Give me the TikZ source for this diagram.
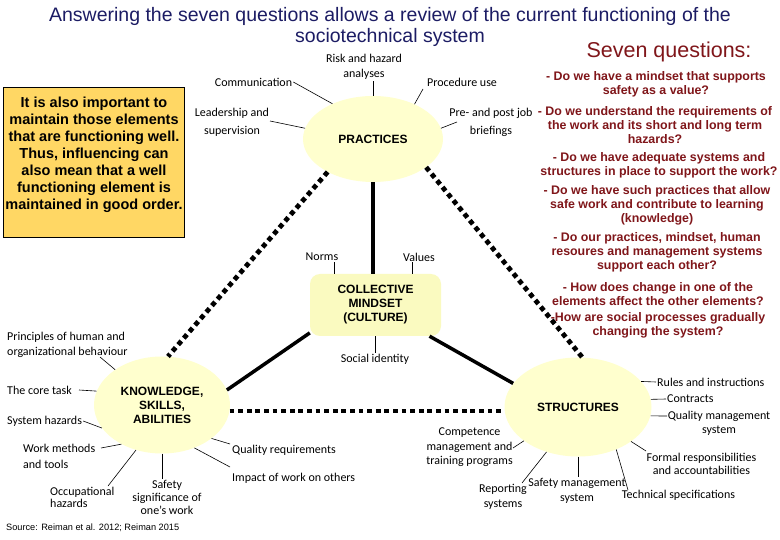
\documentclass[tikz,border=0pt]{standalone}
\usepackage{fontspec}
\usetikzlibrary{shapes.geometric}
\newfontfamily\labfont{Carlito}
\newfontfamily\arfont{Liberation Sans}
\definecolor{titleblue}{RGB}{28,28,100}
\definecolor{qred}{RGB}{128,22,26}
\definecolor{boxfill}{RGB}{255,215,100}
\definecolor{ellfill}{RGB}{255,255,206}
\definecolor{collfill}{RGB}{250,250,192}
\begin{document}
\begin{tikzpicture}[x=1pt,y=-1pt,
  lbl/.style={font=\labfont\fontsize{12}{14}\selectfont, inner sep=1pt, align=center},
  big/.style={font=\arfont\bfseries\fontsize{12}{14}\selectfont, align=center},
  ell/.style={big, ellipse, fill=ellfill, inner sep=0pt},
  collstyle/.style={big, rectangle, rounded corners=10pt, fill=collfill, minimum width=131pt, minimum height=62pt, inner sep=0pt},
  qtxt/.style={font=\arfont\bfseries\fontsize{12.4}{14}\selectfont, text=qred, align=center, inner sep=0pt},
  notestyle/.style={font=\arfont\bfseries\fontsize{14.5}{17}\selectfont, align=center, inner sep=0pt},
  titlestyle/.style={font=\arfont\fontsize{19.5}{21}\selectfont, text=titleblue, align=center, inner sep=0pt},
  sevenstyle/.style={font=\arfont\fontsize{21.5}{22}\selectfont, text=qred, inner sep=0pt},
  srcstyle/.style={font=\arfont\fontsize{9.2}{11}\selectfont, inner sep=0pt},
  leader/.style={draw=black, line width=0.6pt},
  solidlink/.style={draw=black, line width=3.5pt},
  dotlink/.style={draw=black, line width=4.8pt, dash pattern=on 4.8pt off 3.8pt}
]
\useasboundingbox (0,0) rectangle (780,540);
\fill[white] (0,0) rectangle (780,540);

% title
\node[titlestyle] (title) at (390,27) {Answering the seven questions allows a review of the current functioning of the\\sociotechnical system};
\node[sevenstyle] (seven) at (669,52) {Seven questions:};

% note box
\node[draw=black, line width=0.6pt, fill=boxfill, minimum width=181pt, minimum height=150pt, inner sep=0pt] (notebox) at (93.5,162) {};
\node[notestyle] (note) at (94,154.5) {It is also important to\\maintain those elements\\that are functioning well.\\Thus, influencing can\\also mean that a well\\functioning element is\\maintained in good order.};

% main shapes
\node[ell, minimum width=140pt, minimum height=86pt] (prac) at (373,139) {PRACTICES};
\node[collstyle] (coll) at (375.5,305) {COLLECTIVE\\MINDSET\\(CULTURE)};
\node[ell, minimum width=136pt, minimum height=97pt] (know) at (162,405) {KNOWLEDGE,\\SKILLS,\\ABILITIES};
\node[ell, minimum width=147pt, minimum height=99pt] (struct) at (578,407) {STRUCTURES};

% main connectors
\draw[dotlink] (prac.216) -- (know.83);
\draw[dotlink] (prac.332) -- (struct.85);
\draw[dotlink] (know.-5) -- (know.-5 -| struct.west);
\draw[solidlink] (prac.south) -- (prac.south |- coll.north);
\draw[solidlink] (coll.203) -- (know.13);
\draw[solidlink] (coll.-30) -- (struct.160);

% questions
\node[qtxt] (q1) at (656,84) {- Do we have a mindset that supports\\safety as a value?};
\node[qtxt] (q2) at (655,125.5) {- Do we understand the requirements of\\the work and its short and long term\\hazards?};
\node[qtxt] (q3) at (659,165) {- Do we have adequate systems and\\structures in place to support the work?};
\node[qtxt] (q4) at (657,205) {- Do we have such practices that allow\\safe work and contribute to learning\\(knowledge)};
\node[qtxt] (q5) at (657,252.5) {- Do our practices, mindset, human\\resoures and management systems\\support each other?};
\node[qtxt] (q6) at (658,294) {- How does change in one of the\\elements affect the other elements?};
\node[qtxt] (q7) at (658,325.5) {-How are social processes gradually\\changing the system?};

% practices labels
\node[lbl] (comm) at (253.5,82) {Communication};
\draw[leader] (comm.east) -- (prac.139);
\node[lbl] (risk) at (364,67) {Risk and hazard\\[1.5pt]analyses};
\draw[leader] (prac.north) -- (prac.north |- risk.south);
\node[lbl] (proc) at (462,82) {Procedure use};
\coordinate (procend) at (423,89);
\draw[leader] (prac.40) -- (procend);
\node[lbl] (lead) at (232,122) {Leadership and\\[4pt]supervision};
\coordinate (leadend) at (270,121);
\draw[leader] (leadend) -- (prac.171);
\node[lbl] (pre) at (491,122) {Pre- and post job\\[4pt]briefings};
\coordinate (preend) at (457,122);
\draw[leader] (prac.9) -- (preend);

% mindset labels
\node[lbl] (norms) at (322,257) {Norms};
\draw[leader] ([xshift=12pt]norms.south) -- ([xshift=12pt]norms.south |- coll.north);
\node[lbl] (values) at (419,257) {Values};
\draw[leader] ([xshift=-7pt]values.south) -- ([xshift=-7pt]values.south |- coll.north);
\node[lbl] (social) at (375,359) {Social identity};
\draw[leader] (coll.south) -- (coll.south |- social.north);

% knowledge labels
\node[lbl, align=left, anchor=west] (prin) at (6,344.5) {Principles of human and\\[1pt]organizational behaviour};
\coordinate (prinend) at (100,357);
\draw[leader] (prinend) -- (know.143);
\node[lbl, anchor=west] (core) at (6,390) {The core task};
\coordinate (coreend) at (79,390);
\draw[leader] (coreend) -- (know.168);
\node[lbl, anchor=west] (syshaz) at (6,421) {System hazards};
\draw[leader] (syshaz.east) -- (know.201);
\node[lbl, align=left, anchor=west] (workm) at (22,456) {Work methods\\[2pt]and tools};
\coordinate (workend) at (101,448);
\draw[leader] (workend) -- (know.224);
\node[lbl, align=left, anchor=west] (occ) at (49,497.5) {Occupational\\[-2pt]hazards};
\coordinate (occend) at (108,486);
\draw[leader] (occend) -- (know.240);
\node[lbl] (safety) at (167,497) {Safety\\[-1pt]significance of\\[-1pt]one’s work};
\draw[leader] (know.south) -- (know.south |- safety.north);
\node[lbl, anchor=west] (qual) at (231,450) {Quality requirements};
\coordinate (qualend) at (230,444);
\draw[leader] (know.-34) -- (qualend);
\node[lbl, anchor=west] (impact) at (231,478) {Impact of work on others};
\coordinate (impend) at (230,467);
\draw[leader] (know.-53) -- (impend);

% structures labels
\node[lbl, anchor=west] (rules) at (656,382) {Rules and instructions};
\draw[leader] (struct.22) -- (rules.west);
\node[lbl, anchor=west] (contr) at (666,399) {Contracts};
\draw[leader] (struct.6) -- (contr.west);
\node[lbl] (qms) at (719,423) {Quality management\\system};
\coordinate (qmsend) at (667,416);
\draw[leader] (struct.-7) -- (qmsend);
\node[lbl] (formal) at (701.5,463.5) {Formal responsibilities\\[-1pt]and accountabilities};
\coordinate (formend) at (646,451);
\draw[leader] (struct.-33) -- (formend);
\node[lbl] (tech) at (678.5,495) {Technical specifications};
\coordinate (techend) at (628,490);
\draw[leader] (struct.-48) -- (techend);
\node[lbl] (sms) at (577,490.5) {Safety management\\[1pt]system};
\draw[leader] (struct.south) -- (struct.south |- sms.north);
\node[lbl] (report) at (503,496.5) {Reporting\\[1pt]systems};
\coordinate (repend) at (522,483);
\draw[leader] (struct.235) -- (repend);
\node[lbl] (comp) at (469.5,447.5) {Competence\\[0.5pt]management and\\[0.5pt]training programs};
\coordinate (compend) at (513,448);
\draw[leader] (struct.212) -- (compend);

% source
\node[srcstyle, anchor=west] (src) at (6,528) {Source: Reiman et al. 2012; Reiman 2015};
\end{tikzpicture}
\end{document}
